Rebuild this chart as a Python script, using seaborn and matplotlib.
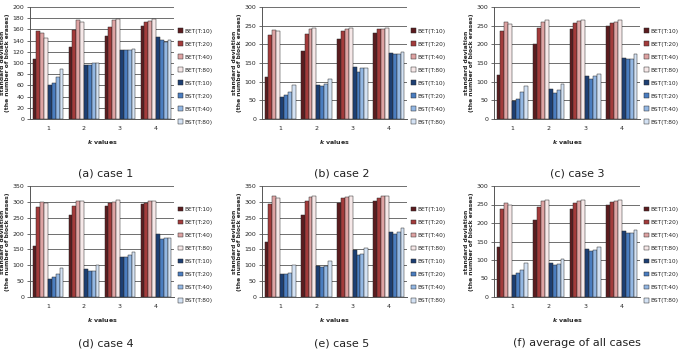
import pandas as pd
import seaborn as sns
import matplotlib.pyplot as plt
import matplotlib.ticker as ticker
from matplotlib.font_manager import FontProperties

k_values = ['1', '2', '3', '4']
series = ['BET(T:10)', 'BET(T:20)', 'BET(T:40)', 'BET(T:80)',
          'BST(T:10)', 'BST(T:20)', 'BST(T:40)', 'BST(T:80)']

# one row per series (same order as `series`), one value per k
case1 = [[108, 128, 148, 166], [158, 159, 165, 173], [153, 176, 176, 175], [145, 174, 179, 178],
         [60, 97, 123, 147], [65, 97, 123, 141], [75, 100, 123, 138], [89, 100, 125, 141]]
case2 = [[113, 183, 215, 231], [226, 227, 235, 240], [239, 240, 242, 241], [235, 245, 245, 245],
         [60, 90, 139, 178], [64, 89, 127, 175], [73, 93, 137, 175], [90, 108, 137, 180]]
case3 = [[117, 202, 240, 249], [236, 245, 258, 258], [261, 259, 262, 261], [254, 264, 264, 265],
         [49, 81, 114, 163], [54, 70, 108, 160], [72, 78, 116, 160], [88, 93, 121, 175]]
case4 = [[160, 260, 288, 293], [283, 288, 297, 296], [300, 303, 300, 302], [297, 303, 305, 303],
         [58, 88, 126, 198], [63, 81, 125, 183], [71, 82, 132, 185], [90, 100, 141, 185]]
case5 = [[173, 260, 297, 304], [294, 303, 311, 313], [317, 316, 314, 319], [312, 319, 318, 318],
         [72, 97, 149, 204], [74, 94, 134, 200], [77, 99, 137, 205], [101, 115, 153, 219]]
average = [[134, 207, 237, 250], [239, 244, 253, 256], [254, 259, 259, 260], [249, 262, 262, 262],
           [59, 91, 131, 178], [64, 86, 124, 172], [73, 90, 128, 172], [92, 103, 135, 180]]

captions = ['(a) case 1', '(b) case 2', '(c) case 3',
            '(d) case 4', '(e) case 5', '(f) average of all cases']
y_limits = [200, 300, 300, 350, 350, 300]
y_steps = [20, 50, 50, 50, 50, 50]

palette = ['#5b1c1f', '#a33b3b', '#dea3a3', '#f6e8e8',
           '#1d3f73', '#4a7dc0', '#93b7e3', '#d4e2f4']

sns.set_style('white')
plt.rcParams['font.family'] = ['DejaVu Sans']

W, H = 682, 354
fig = plt.figure(figsize=(W / 100, H / 100), dpi=100)

# axes boxes in pixels: left, top, right, bottom
lefts = [30, 262, 494]
rights = [174, 407, 640]
tops = [7, 186]
bottoms = [119, 297]
cap_x = [106, 342, 577]
cap_y = [173, 343]

legend_font = FontProperties(family=['Liberation Sans Narrow', 'DejaVu Sans'], size=4.2)

all_data = [case1, case2, case3, case4, case5, average]

for i, data in enumerate(all_data):
    r, c = divmod(i, 3)
    l, rt, t, b = lefts[c], rights[c], tops[r], bottoms[r]
    ax = fig.add_axes([l / W, 1 - b / H, (rt - l) / W, (b - t) / H])

    rows = []
    for s, vals in zip(series, data):
        for k, v in zip(k_values, vals):
            rows.append({'k': k, 'series': s, 'value': v})
    df = pd.DataFrame(rows)

    sns.barplot(data=df, x='k', y='value', hue='series', hue_order=series,
                palette=palette, width=0.86, edgecolor='#2a2a2a', linewidth=0.35,
                saturation=1, ax=ax, zorder=3)

    ax.set_ylim(0, y_limits[i])
    ax.set_xlim(-0.5, 3.5)
    ax.yaxis.set_major_locator(ticker.MultipleLocator(y_steps[i]))
    ax.grid(axis='y', color='#6e6e6e', linewidth=0.7, zorder=0)
    ax.set_axisbelow(True)
    for side in ['top', 'right']:
        ax.spines[side].set_visible(False)
    ax.spines['left'].set_color('#555555')
    ax.spines['bottom'].set_color('#555555')
    ax.spines['left'].set_linewidth(0.7)
    ax.spines['bottom'].set_linewidth(0.7)

    ax.xaxis.set_minor_locator(ticker.FixedLocator([-0.5, 0.5, 1.5, 2.5, 3.5]))
    ax.tick_params(axis='x', which='major', length=0, labelsize=4.5, pad=5)
    ax.tick_params(axis='x', which='minor', length=3, width=0.6, color='#555555', direction='out')
    ax.tick_params(axis='y', length=2.5, width=0.6, color='#555555', labelsize=4.5, pad=1.5,
                   direction='out', left=True)

    ax.set_xlabel(r'$\mathbfit{k}$ values', fontsize=4.5, fontweight='bold', labelpad=5)
    ax.set_ylabel('standard deviation\n(the number of block erases)', fontsize=4.3,
                  fontweight='bold', labelpad=2, linespacing=1.1)

    ax.legend(loc='center left', bbox_to_anchor=(1.03, 0.38), frameon=False, prop=legend_font,
              handlelength=0.8, handleheight=0.9, handletextpad=0.2, labelspacing=1.3,
              borderpad=0, borderaxespad=0)

    fig.text(cap_x[c] / W, 1 - cap_y[r] / H, captions[i], ha='center', va='center',
             fontsize=8, color='#222222')

fig.savefig('out.png', dpi=100)
